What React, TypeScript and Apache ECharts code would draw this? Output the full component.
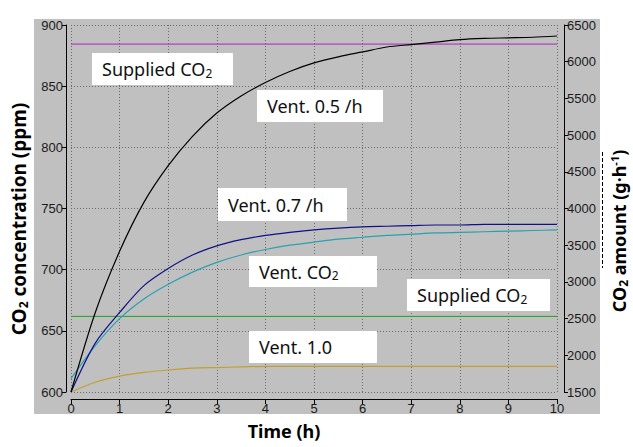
import React, { useEffect, useRef } from 'react';
import * as echarts from 'echarts';

// Time (h)
const hours = [0, 0.5, 1, 1.5, 2, 2.5, 3, 3.5, 4, 4.5, 5, 5.5, 6, 6.5, 7, 7.5, 8, 8.5, 9, 9.5, 10];
// CO2 concentration (ppm), left axis
const vent05 = [600, 665, 715, 755, 785, 809, 828, 842, 853, 862, 869, 874, 878, 882, 884, 886, 888, 889, 889.5, 890, 891];
const vent07 = [600, 640, 665, 687, 701, 712, 719.5, 724.5, 728, 730.5, 732.5, 734, 735, 735.5, 736, 736.5, 736.5, 737, 737, 737, 737];
const ventCO2 = [611, 638, 660, 676, 688, 698, 706, 712, 716.5, 720, 722.5, 725, 726.5, 728, 729, 730, 730.5, 731, 731.5, 732, 732.5];
const vent10 = [600, 608, 613, 616, 618, 619.5, 620, 620.5, 621, 621, 621, 621, 621, 621, 621, 621, 621, 621, 621, 621, 621];
// CO2 amount (g/h), right axis
const suppliedHigh = [6240, 6240];
const suppliedLow = [2530, 2530];
const suppliedHours = [0, 10];

const xTicks = { min: 0, max: 10, interval: 1 };
const leftTicks = { min: 600, max: 900, interval: 50 };
const rightTicks = { min: 1500, max: 6500, interval: 500 };

const tickFont = {
  fontFamily: '"Liberation Sans Narrow", "Liberation Sans", sans-serif',
  fontSize: 13,
  color: '#1a1a1a',
};
const boxFont = '"Noto Sans", "Open Sans", sans-serif';
const titleFont = '"Noto Sans", "Open Sans", sans-serif';

const pair = (xs: number[], ys: number[]) => xs.map((x, i) => [x, ys[i]]);

function boxLabel(x: number, y: number, w: number, h: number, text: string) {
  return {
    type: 'group',
    x,
    y,
    z: 50,
    children: [
      { type: 'rect', shape: { x: 0, y: 0, width: w, height: h }, style: { fill: '#ffffff' }, z: 50 },
      {
        type: 'text',
        x: 10,
        y: h / 2,
        z: 51,
        style: {
          text,
          fontFamily: boxFont,
          fontSize: 18,
          fill: '#111111',
          verticalAlign: 'middle',
          align: 'left',
          rich: {
            s: { fontFamily: boxFont, fontSize: 12, fill: '#111111', padding: [8, 0, 0, 0] },
          },
        },
      },
    ],
  };
}

const axisLineStyle = { color: '#000000', width: 1 };
const gridLineStyle = { color: '#6a6a6a', width: 1, type: [1, 2] as any };
const plain = (v: number) => String(v);

const curve = (name: string, ys: number[], color: string) => ({
  name,
  type: 'line',
  yAxisIndex: 0,
  data: pair(hours, ys),
  symbol: 'none',
  smooth: 0.3,
  lineStyle: { color, width: 1.2 },
});

const option: any = {
  animation: false,
  backgroundColor: '#ffffff',
  grid: { left: 71, right: 76, top: 25, bottom: 55, containLabel: false },
  xAxis: {
    type: 'value',
    ...xTicks,
    offset: 7,
    axisLine: { show: true, onZero: false, lineStyle: axisLineStyle },
    axisTick: { show: true, length: 5, lineStyle: axisLineStyle },
    axisLabel: { ...tickFont, margin: 3, formatter: plain },
    splitLine: { show: true, lineStyle: gridLineStyle },
  },
  yAxis: [
    {
      type: 'value',
      position: 'left',
      ...leftTicks,
      offset: 5,
      axisLine: { show: true, onZero: false, lineStyle: axisLineStyle },
      axisTick: { show: true, length: 4, lineStyle: axisLineStyle },
      axisLabel: { ...tickFont, margin: 3, formatter: plain },
      splitLine: { show: true, lineStyle: gridLineStyle },
    },
    {
      type: 'value',
      position: 'right',
      ...rightTicks,
      offset: 7,
      axisLine: { show: true, onZero: false, lineStyle: axisLineStyle },
      axisTick: { show: true, length: 4, lineStyle: axisLineStyle },
      axisLabel: { ...tickFont, margin: 3, formatter: plain },
      splitLine: { show: false },
    },
  ],
  series: [
    { name: 'Supplied CO2 (high)', type: 'line', yAxisIndex: 1, data: pair(suppliedHours, suppliedHigh), symbol: 'none', lineStyle: { color: '#b020c0', width: 1 } },
    { name: 'Supplied CO2 (low)', type: 'line', yAxisIndex: 1, data: pair(suppliedHours, suppliedLow), symbol: 'none', lineStyle: { color: '#20a020', width: 1 } },
    curve('Vent. 1.0', vent10, '#c0a030'),
    curve('Vent. CO2', ventCO2, '#2aa0b0'),
    curve('Vent. 0.7 /h', vent07, '#10108a'),
    curve('Vent. 0.5 /h', vent05, '#000000'),
  ],
  graphic: [
    { type: 'rect', z: -10, shape: { x: 34, y: 19, width: 566, height: 395 }, style: { fill: '#c0c0c0' } },
    { type: 'rect', z: 100, shape: { x: 0, y: 414, width: 633, height: 33 }, style: { fill: '#ffffff' } },
    boxLabel(92, 53, 141, 32, 'Supplied CO{s|2}'),
    boxLabel(257, 90, 126, 32, 'Vent. 0.5 /h'),
    boxLabel(218, 188, 129, 33, 'Vent. 0.7 /h'),
    boxLabel(249, 256, 128, 31, 'Vent. CO{s|2}'),
    boxLabel(407, 279, 143, 32, 'Supplied CO{s|2}'),
    boxLabel(249, 331, 128, 32, 'Vent. 1.0'),
    {
      type: 'text',
      z: 101,
      x: 284,
      y: 431,
      style: { text: 'Time (h)', fontFamily: titleFont, fontSize: 18, fontWeight: 'bold', fill: '#000000', align: 'center', verticalAlign: 'middle' },
    },
    {
      type: 'text',
      z: 101,
      x: 19,
      y: 219,
      rotation: Math.PI / 2,
      style: {
        text: '{b|CO}{s|2}{b| concentration (ppm)}',
        align: 'center',
        verticalAlign: 'middle',
        rich: {
          b: { fontFamily: titleFont, fontSize: 19, fontWeight: 'bold', fill: '#000000' },
          s: { fontFamily: titleFont, fontSize: 12, fontWeight: 'bold', fill: '#000000', padding: [9, 0, 0, 0] },
        },
      },
    },
    {
      type: 'text',
      z: 101,
      x: 619,
      y: 231,
      rotation: Math.PI / 2,
      style: {
        text: '{b|CO}{s|2}{b| amount (g·h}{p|-1}{b|)}',
        align: 'center',
        verticalAlign: 'middle',
        rich: {
          b: { fontFamily: titleFont, fontSize: 18, fontWeight: 'bold', fill: '#000000' },
          s: { fontFamily: titleFont, fontSize: 12, fontWeight: 'bold', fill: '#000000', padding: [9, 0, 0, 0] },
          p: { fontFamily: titleFont, fontSize: 11, fontWeight: 'bold', fill: '#000000', padding: [0, 0, 9, 0] },
        },
      },
    },
    {
      type: 'line',
      z: 101,
      shape: { x1: 602.5, y1: 152, x2: 602.5, y2: 268 },
      style: { stroke: '#000000', lineWidth: 1, lineDash: [4, 2] },
    },
  ],
};

export default function App() {
  const ref = useRef<HTMLDivElement>(null);
  useEffect(() => {
    const chart = echarts.init(ref.current as HTMLDivElement, null, { renderer: 'svg' });
    chart.setOption(option);
    return () => chart.dispose();
  }, []);
  return <div ref={ref} style={{ position: 'fixed', left: 0, top: 0, width: 633, height: 447 }} />;
}
